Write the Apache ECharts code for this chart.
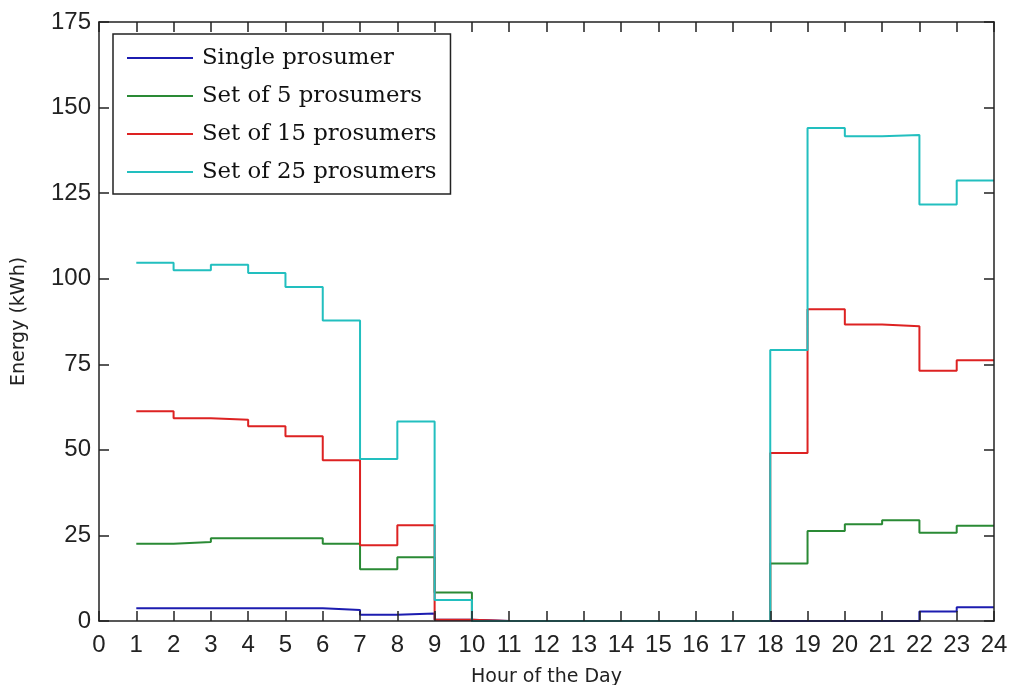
<!DOCTYPE html>
<html>
<head>
<meta charset="utf-8">
<script src="https://cdn.jsdelivr.net/npm/echarts@6/dist/echarts.min.js"></script>
<style>html,body{margin:0;padding:0;background:#fff;}#c{width:1012px;height:685px;}</style>
</head>
<body>
<div id="c"></div>
<script>
const hours = [1,2,3,4,5,6,7,8,9,10,11,12,13,14,15,16,17,18,19,20,21,22,23,24];
const seriesNames = ['Single prosumer','Set of 5 prosumers','Set of 15 prosumers','Set of 25 prosumers'];
const single = [3.7,3.7,3.7,3.7,3.7,3.2,1.8,2.2,0.4,0,0,0,0,0,0,0,0,0,0,0,0,2.8,4.0,4.0];
const set5 = [22.6,23.1,24.2,24.2,24.2,22.6,15.1,18.6,8.3,0,0,0,0,0,0,0,0,16.8,26.3,28.3,29.4,25.8,27.8,27.8];
const set15 = [61.3,59.2,58.8,56.9,54.0,47.0,22.1,28.0,0.4,0,0,0,0,0,0,0,0,49.1,91.1,86.6,86.1,73.1,76.2,76.2];
const set25 = [104.7,102.5,104.1,101.7,97.6,87.8,47.3,58.3,6.1,0,0,0,0,0,0,0,0,79.2,144.0,141.6,142.0,121.7,128.7,128.7];
const colors = ['#1c1cb0','#2a8a35','#dd2222','#22bfbf'];
const allData = [single,set5,set15,set25];

const chart = echarts.init(document.getElementById('c'), null, {renderer:'canvas'});
const tickFont = {fontFamily:'Liberation Sans', fontSize:24, color:'#222'};
const axisLine = {show:true, onZero:false, lineStyle:{color:'#222', width:1.5}};
const tick = {show:true, inside:true, length:10, lineStyle:{color:'#222', width:1.5}};
chart.setOption({
  backgroundColor:'#fff',
  animation:false,
  grid:{left:99, right:18, top:22, bottom:64, containLabel:false, outerBoundsMode:'none'},
  legend:{
    orient:'vertical', left:113, top:34,
    data:seriesNames,
    icon:'rect',
    itemWidth:66, itemHeight:2, itemGap:10,
    padding:[10,14,8,14],
    backgroundColor:'#fff', borderColor:'#222', borderWidth:1.5,
    textStyle:{fontFamily:'DejaVu Serif', fontSize:22.8, color:'#111', lineHeight:28, padding:[0,0,0,4]}
  },
  xAxis:[
    {type:'value', min:0, max:24, interval:1, position:'bottom', z:5,
     name:'Hour of the Day', nameLocation:'middle', nameGap:47,
     nameTextStyle:{fontFamily:'DejaVu Sans', fontSize:19, color:'#222'},
     axisLine:axisLine, axisTick:tick, splitLine:{show:false},
     axisLabel:Object.assign({margin:12}, tickFont)},
    {type:'value', min:0, max:24, interval:1, position:'top', z:5,
     axisLine:axisLine, axisTick:tick, splitLine:{show:false}, axisLabel:{show:false}}
  ],
  yAxis:[
    {type:'value', min:0, max:175, interval:25, position:'left', z:5,
     name:'Energy (kWh)', nameLocation:'middle', nameGap:70,
     nameTextStyle:{fontFamily:'DejaVu Sans', fontSize:19, color:'#222'},
     axisLine:axisLine, axisTick:tick, splitLine:{show:false},
     axisLabel:Object.assign({margin:8}, tickFont)},
    {type:'value', min:0, max:175, interval:25, position:'right', z:5,
     axisLine:axisLine, axisTick:tick, splitLine:{show:false}, axisLabel:{show:false}}
  ],
  series: seriesNames.map((n,i)=>({
    name:n, type:'line', step:'end', symbol:'none', z:2,
    xAxisIndex:0, yAxisIndex:0,
    lineStyle:{color:colors[i], width:2},
    itemStyle:{color:colors[i]},
    data: hours.map((h,j)=>[h, allData[i][j]])
  }))
});
</script>
</body>
</html>
